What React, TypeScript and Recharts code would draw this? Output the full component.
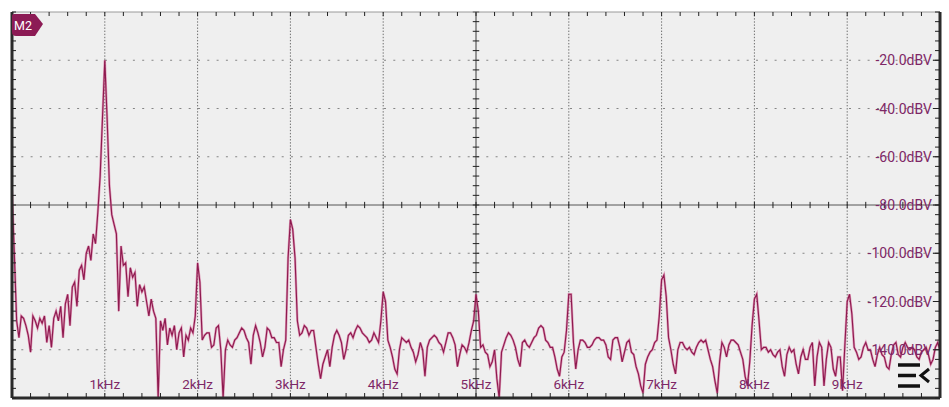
import React from "react";
import {
  ComposedChart,
  Line,
  XAxis,
  YAxis,
  CartesianGrid,
  ReferenceLine,
} from "recharts";

// FFT of channel M2, one level (dBV) per 25 Hz bin, one array per kHz
const binHz = 25;

const band0 = [
  -74, -100, -128, -135, -126, -127, -130, -134, -141, -126,
  -128, -131, -127, -129, -126, -137, -130, -139, -127, -124,
  -128, -122, -135, -121, -117, -130, -114, -112, -122, -107,
  -105, -111, -100, -97, -103, -92, -96, -83, -68, -44,
];
const band1 = [
  -20, -44, -72, -84, -88, -92, -124, -97, -105, -104,
  -118, -106, -110, -108, -122, -113, -116, -114, -120, -126,
  -119, -124, -127, -160, -128, -132, -127, -138, -131, -134,
  -130, -140, -133, -131, -143, -134, -136, -131, -133, -126,
];
const band2 = [
  -104, -112, -136, -134, -133, -133, -139, -138, -131, -130,
  -140, -160, -140, -136, -138, -139, -136, -135, -133, -131,
  -132, -135, -137, -146, -134, -130, -133, -137, -143, -139,
  -131, -132, -135, -135, -137, -137, -147, -140, -136, -102,
];
const band3 = [
  -86, -90, -102, -128, -134, -133, -130, -131, -134, -132,
  -132, -139, -146, -152, -146, -143, -140, -147, -139, -134,
  -132, -134, -137, -144, -140, -134, -133, -135, -132, -130,
  -131, -133, -134, -135, -137, -136, -133, -135, -137, -128,
];
const band4 = [
  -116, -120, -136, -139, -143, -148, -150, -140, -135, -136,
  -137, -136, -139, -141, -145, -142, -137, -140, -151, -139,
  -136, -135, -134, -135, -137, -138, -141, -137, -133, -133,
  -135, -138, -147, -142, -138, -139, -141, -137, -132, -128,
];
const band5 = [
  -117, -124, -139, -138, -141, -142, -147, -145, -140, -152,
  -160, -141, -138, -135, -133, -134, -136, -139, -144, -147,
  -137, -136, -138, -139, -137, -135, -134, -131, -130, -131,
  -136, -137, -139, -139, -143, -148, -151, -143, -141, -132,
];
const band6 = [
  -117, -117, -137, -148, -140, -136, -136, -137, -139, -139,
  -138, -136, -135, -135, -136, -136, -138, -143, -144, -136,
  -135, -135, -139, -145, -141, -137, -136, -141, -142, -147,
  -150, -155, -158, -146, -143, -141, -140, -137, -136, -126,
];
const band7 = [
  -111, -109, -118, -135, -140, -146, -150, -140, -137, -137,
  -139, -140, -139, -141, -142, -139, -137, -136, -137, -136,
  -140, -144, -147, -153, -158, -145, -137, -139, -143, -138,
  -136, -136, -137, -138, -141, -144, -151, -155, -145, -130,
];
const band8 = [
  -119, -117, -128, -140, -139, -139, -141, -140, -142, -143,
  -141, -140, -147, -151, -142, -139, -141, -140, -146, -150,
  -143, -140, -144, -144, -139, -137, -155, -143, -137, -139,
  -155, -144, -137, -139, -148, -151, -143, -143, -157, -138,
];
const band9 = [
  -120, -117, -125, -139, -141, -144, -143, -139, -137, -140,
  -140, -144, -147, -142, -139, -142, -143, -147, -148, -142,
  -138, -137, -142, -143, -139, -137, -139, -140, -139, -140,
  -143, -144, -141, -140, -139, -142, -146, -144, -139, -137,
];
const lastBin = -140;

const levels = [
  ...band0, ...band1, ...band2, ...band3, ...band4,
  ...band5, ...band6, ...band7, ...band8, ...band9, lastBin,
];
const spectrum = levels.map((db, i) => ({ hz: i * binHz, db }));

// axes / graticule
const gridHz = [1000, 2000, 3000, 4000, 6000, 7000, 8000, 9000];
const gridDb = [-20, -40, -60, -100, -120, -140];
const kHzLabels = [1, 2, 3, 4, 5, 6, 7, 8, 9];
const dbLabels = [-20, -40, -60, -80, -100, -120, -140];
const minorHz = Array.from({ length: 51 }, (_, i) => i * 200);
const minorDb = Array.from({ length: 41 }, (_, i) => -i * 4);

const labelColor = "#7e2766";
const frame = "#2b2b2b";
const tickColor = "#222";
const font = "Roboto, 'Noto Sans', sans-serif";

const blank = () => <g />;

const HzTick = ({ x, y, payload }: any) => {
  const k = payload.value / 1000;
  if (!kHzLabels.includes(k)) return <g />;
  return (
    <text x={x} y={y} textAnchor="middle" fill={labelColor} fontSize={13.5} fontFamily={font}>
      {k}kHz
    </text>
  );
};

const DbTick = ({ x, y, payload }: any) => {
  const v = payload.value;
  if (!dbLabels.includes(v)) return <g />;
  return (
    <g>
      <line x1={x + 1} x2={x + 8} y1={y} y2={y} stroke={tickColor} />
      <text x={x} y={y} dy={5} textAnchor="end" fill={labelColor} fontSize={14} fontFamily={font}>
        {v}.0dBV
      </text>
    </g>
  );
};

const Badge = () => (
  <svg width={36} height={26} style={{ position: "absolute", left: 11, top: 12 }}>
    <path d="M1 4 Q1 2 3 2 L24 2 L32 12 L24 24 L5 24 Q1 24 1 20 Z" fill="#8c1b55" />
    <text x={3} y={18} fill="#fff" fontSize={12.5} fontFamily={font}>M2</text>
  </svg>
);

const MenuIcon = () => (
  <svg width={40} height={30} style={{ position: "absolute", left: 894, top: 360 }}>
    <g stroke="#111" strokeWidth={3.5}>
      <line x1={4} x2={26} y1={5} y2={5} />
      <line x1={4} x2={22} y1={15.5} y2={15.5} />
      <line x1={4} x2={26} y1={26} y2={26} />
    </g>
    <polyline points="35,9 27,15.5 35,22" fill="none" stroke="#111" strokeWidth={3} />
  </svg>
);

export default function App() {
  return (
    <div style={{ position: "absolute", left: 0, top: 0, width: 949, height: 407, background: "#fff" }}>
      <ComposedChart
        width={949}
        height={407}
        data={spectrum}
        margin={{ top: 12, right: 9, bottom: 9, left: 12 }}
      >
        <CartesianGrid
          xAxisId="b"
          yAxisId="l"
          vertical={false}
          horizontalValues={gridDb}
          stroke="#858585"
          strokeDasharray="2 7.3"
          fill="#efefef"
          fillOpacity={1}
        />
        <CartesianGrid
          xAxisId="b"
          yAxisId="l"
          horizontal={false}
          verticalValues={gridHz}
          stroke="#6e6e6e"
          strokeDasharray="1.4 1.7"
        />
        <XAxis
          xAxisId="b"
          dataKey="hz"
          type="number"
          domain={[0, 10000]}
          allowDataOverflow
          ticks={minorHz}
          interval={0}
          orientation="bottom"
          mirror
          axisLine={{ stroke: frame, strokeWidth: 3 }}
          tickLine={{ stroke: tickColor }}
          tickSize={5}
          tickMargin={4}
          tick={HzTick}
        />
        <XAxis
          xAxisId="t"
          dataKey="hz"
          type="number"
          domain={[0, 10000]}
          allowDataOverflow
          ticks={minorHz}
          interval={0}
          orientation="top"
          mirror
          axisLine={{ stroke: "#9a9a9a" }}
          tickLine={{ stroke: tickColor }}
          tickSize={4}
          tick={blank}
        />
        <YAxis
          yAxisId="l"
          type="number"
          domain={[-160, 0]}
          allowDataOverflow
          ticks={minorDb}
          interval={0}
          orientation="left"
          mirror
          axisLine={{ stroke: frame, strokeWidth: 3 }}
          tickLine={{ stroke: tickColor }}
          tickSize={4}
          tick={blank}
        />
        <YAxis
          yAxisId="r"
          type="number"
          domain={[-160, 0]}
          allowDataOverflow
          ticks={minorDb}
          interval={0}
          orientation="right"
          mirror
          axisLine={{ stroke: frame, strokeWidth: 3 }}
          tickLine={{ stroke: tickColor }}
          tickSize={5}
          tickMargin={3}
          tick={DbTick}
        />
        <ReferenceLine xAxisId="b" yAxisId="l" y={-80} stroke="#555" />
        <ReferenceLine xAxisId="b" yAxisId="l" x={5000} stroke="#3a3a3a" />
        {minorHz.map((hz) => (
          <ReferenceLine
            key={"cx" + hz}
            xAxisId="b"
            yAxisId="l"
            segment={[{ x: hz, y: -78.7 }, { x: hz, y: -81.3 }]}
            stroke={tickColor}
          />
        ))}
        {minorDb.map((db) => (
          <ReferenceLine
            key={"cy" + db}
            xAxisId="b"
            yAxisId="l"
            segment={[{ x: 4965, y: db }, { x: 5035, y: db }]}
            stroke={tickColor}
          />
        ))}
        <Line
          xAxisId="t"
          yAxisId="r"
          dataKey="db"
          type="linear"
          stroke="#d4568c"
          strokeWidth={2.4}
          strokeOpacity={0.55}
          dot={false}
          activeDot={false}
          isAnimationActive={false}
        />
        <Line
          xAxisId="b"
          yAxisId="l"
          dataKey="db"
          type="linear"
          stroke="#8e1a4f"
          strokeWidth={1.15}
          dot={false}
          activeDot={false}
          isAnimationActive={false}
        />
      </ComposedChart>
      <Badge />
      <MenuIcon />
    </div>
  );
}
